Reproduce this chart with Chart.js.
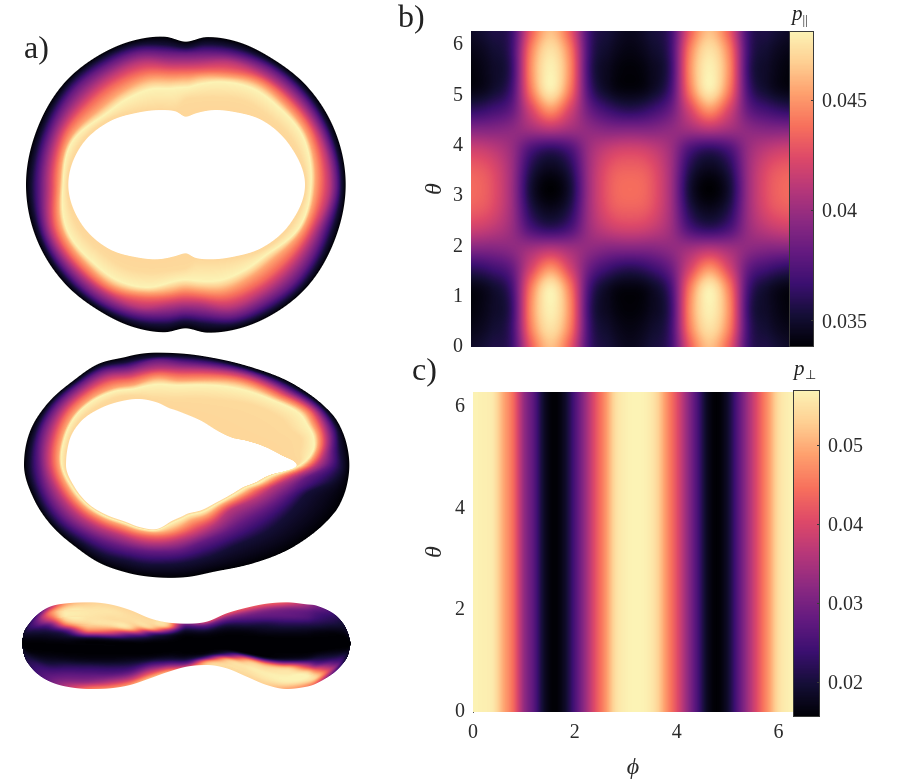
<!DOCTYPE html>
<html>
<head>
<meta charset="utf-8">
<script src="https://cdn.jsdelivr.net/npm/chart.js@4"></script>
<style>
  html, body { margin: 0; padding: 0; background: #fff; }
  body { position: relative; width: 900px; height: 784px; overflow: hidden; font-family: "Liberation Serif", serif; color: #222; }
  .box { position: absolute; }
  .lab { position: absolute; white-space: nowrap; line-height: 1; }
  .lab sub { font-size: 62%; vertical-align: -0.3em; line-height: 0; }
</style>
</head>
<body>
<div class="box" style="left:0;top:20px;width:360px;height:330px"><canvas id="topView"></canvas></div>
<div class="box" style="left:0;top:340px;width:360px;height:250px"><canvas id="midView"></canvas></div>
<div class="box" style="left:0;top:585px;width:360px;height:120px"><canvas id="lowView"></canvas></div>
<div class="box" style="left:420px;top:25px;width:369px;height:330px"><canvas id="parMap"></canvas></div>
<div class="box" style="left:789px;top:25px;width:111px;height:330px"><canvas id="parBar"></canvas></div>
<div class="box" style="left:420px;top:385px;width:373px;height:399px"><canvas id="perpMap"></canvas></div>
<div class="box" style="left:793px;top:385px;width:107px;height:337px"><canvas id="perpBar"></canvas></div>
<div class="lab" style="left:24px;top:31px;font-size:32px">a)</div>
<div class="lab" style="left:398px;top:0;font-size:32px">b)</div>
<div class="lab" style="left:412px;top:353px;font-size:32px">c)</div>
<div class="lab" style="left:792px;top:3px;font-size:21px"><i>p</i><sub>||</sub></div>
<div class="lab" style="left:794px;top:358px;font-size:21px"><i>p</i><sub>⊥</sub></div>
<script>
const magma = ['#000004','#140e36','#3b0f70','#641a80','#8c2981','#b73779','#de4968','#f7705c','#fe9f6d','#fecf92','#fcf3b5'];

// phi / theta sample positions of the two maps
const phiPar = [0,0.39,0.79,1.18,1.57,1.96,2.36,2.75,3.14,3.53,3.93,4.32,4.71,5.11,5.5,5.89,6.283];
const thetaPar = [0,0.39,0.79,1.18,1.57,1.96,2.36,2.75,3.14,3.53,3.93,4.32,4.71,5.11,5.5,5.89,6.283];
const pPar = [
  [.0348,.0355,.0365,.0430,.0462,.0430,.0366,.0352,.0345,.0352,.0366,.0430,.0462,.0430,.0365,.0355,.0348],
  [.0343,.0350,.0365,.0442,.0474,.0442,.0365,.0348,.0342,.0348,.0365,.0442,.0474,.0442,.0365,.0350,.0343],
  [.0340,.0347,.0363,.0446,.0480,.0446,.0363,.0344,.0339,.0344,.0363,.0446,.0480,.0446,.0363,.0347,.0340],
  [.0342,.0349,.0368,.0440,.0478,.0440,.0368,.0346,.0341,.0346,.0368,.0440,.0478,.0440,.0368,.0349,.0342],
  [.0362,.0368,.0380,.0420,.0448,.0420,.0382,.0366,.0360,.0366,.0382,.0420,.0448,.0420,.0380,.0368,.0362],
  [.0392,.0392,.0395,.0402,.0408,.0402,.0396,.0392,.0392,.0392,.0396,.0402,.0408,.0402,.0395,.0392,.0392],
  [.0418,.0413,.0400,.0372,.0362,.0372,.0402,.0416,.0420,.0416,.0402,.0372,.0362,.0372,.0400,.0413,.0418],
  [.0432,.0425,.0402,.0358,.0345,.0358,.0404,.0428,.0433,.0428,.0404,.0358,.0345,.0358,.0402,.0425,.0432],
  [.0436,.0428,.0402,.0352,.0338,.0352,.0404,.0431,.0437,.0431,.0404,.0352,.0338,.0352,.0402,.0428,.0436],
  [.0432,.0425,.0402,.0358,.0345,.0358,.0404,.0428,.0433,.0428,.0404,.0358,.0345,.0358,.0402,.0425,.0432],
  [.0418,.0413,.0400,.0372,.0362,.0372,.0402,.0416,.0420,.0416,.0402,.0372,.0362,.0372,.0400,.0413,.0418],
  [.0392,.0392,.0395,.0402,.0408,.0402,.0396,.0392,.0392,.0392,.0396,.0402,.0408,.0402,.0395,.0392,.0392],
  [.0362,.0368,.0380,.0420,.0448,.0420,.0382,.0366,.0360,.0366,.0382,.0420,.0448,.0420,.0380,.0368,.0362],
  [.0342,.0349,.0368,.0440,.0478,.0440,.0368,.0346,.0341,.0346,.0368,.0440,.0478,.0440,.0368,.0349,.0342],
  [.0340,.0347,.0363,.0446,.0480,.0446,.0363,.0344,.0339,.0344,.0363,.0446,.0480,.0446,.0363,.0347,.0340],
  [.0343,.0350,.0365,.0442,.0474,.0442,.0365,.0348,.0342,.0348,.0365,.0442,.0474,.0442,.0365,.0350,.0343],
  [.0348,.0355,.0365,.0430,.0462,.0430,.0366,.0352,.0345,.0352,.0366,.0430,.0462,.0430,.0365,.0355,.0348]
];
const parRange = [0.0338, 0.0481];
const parTicks = [0.035, 0.04, 0.045];

const phiPerp = [0,.2,.4,.6,.8,1,1.2,1.4,1.6,1.8,2,2.2,2.4,2.6,2.8,3,3.2,3.4,3.6,3.8,4,4.2,4.4,4.6,4.8,5,5.2,5.4,5.6,5.8,6,6.2,6.283];
const pPerp = [.0568,.0565,.0555,.0495,.0435,.033,.0265,.0185,.0157,.0185,.0255,.033,.041,.0475,.0545,.0565,.0569,.0565,.054,.0475,.041,.033,.0255,.018,.0157,.019,.0265,.034,.0415,.048,.0545,.0565,.0568];
const perpRange = [0.0156, 0.05696];
const perpTicks = [0.02, 0.03, 0.04, 0.05];

const thetaTicksPar = [0,1,2,3,4,5,6];
const thetaTicksPerp = [0,2,4,6];
const phiTicksPerp = [0,2,4,6];

// torus views: outline radii, outer rim to hole
const ringLevels = [0,.1,.3,.5,.68,.82,1,.93,.92];
const topCentre = [557, 494];
const topAngles = [0,20,40,55,70,82,90,98,110,125,140,160,180,200,220,235,250,262,270,278,290,305,320,340];
const topRadii = [
  [480,468,453,433,408,388,376,362,358],
  [477,460,437,412,392,375,365,342,335],
  [476,462,438,403,375,345,322,304,296],
  [469,455,430,398,368,338,312,270,262],
  [460,445,422,392,360,335,305,245,238],
  [448,422,395,362,338,318,292,232,222],
  [431,411,386,356,331,311,285,250,206],
  [447,424,397,365,340,322,295,258,216],
  [455,438,415,392,362,345,328,278,238],
  [459,448,430,405,388,372,352,306,265],
  [468,456,438,415,398,380,363,322,300],
  [476,463,447,428,410,393,381,350,335],
  [479,462,437,412,392,377,368,356,352],
  [476,460,437,412,392,375,365,342,335],
  [475,462,438,403,375,345,322,304,296],
  [468,455,430,398,368,338,312,270,262],
  [460,445,422,392,360,335,305,245,238],
  [448,424,400,368,342,320,292,232,222],
  [429,412,394,364,339,319,292,255,204],
  [447,426,400,370,344,328,305,262,216],
  [456,438,415,392,362,345,328,278,238],
  [459,448,430,405,388,372,352,306,265],
  [468,456,438,415,398,380,363,322,300],
  [476,463,447,428,410,393,381,350,335]
];
const midCentre = [470, 375];
const midAngles = [0,5,10,15,30,45,60,75,90,105,120,135,150,165,180,195,210,225,240,255,270,285,300,315,330,340,345,350,355];
const midRadii = [
  [578,555,515,480,460,445,430,422,420],
  [575,530,450,412,386,368,350,342,340],
  [567,465,415,362,340,325,310,302,300],
  [552,440,385,333,305,288,272,266,264],
  [482,390,320,263,245,232,222,218,216],
  [415,340,288,250,228,212,198,193,191],
  [367,318,268,240,215,195,178,174,172],
  [348,305,265,235,215,200,180,176,174],
  [337,300,260,235,215,203,195,193,192],
  [335,300,262,235,216,204,197,195,193],
  [340,312,272,240,222,208,200,197,195],
  [346,325,292,260,240,226,218,214,212],
  [364,350,320,285,264,250,240,237,235],
  [383,368,340,308,288,272,262,257,255],
  [398,380,352,328,308,292,285,275,272],
  [393,378,358,332,312,295,288,275,272],
  [375,367,350,328,310,292,285,268,262],
  [356,348,335,315,298,280,272,250,240],
  [350,340,325,305,285,265,255,235,220],
  [337,322,305,285,268,250,238,215,205],
  [337,325,315,290,275,260,242,200,188],
  [345,335,318,298,280,262,248,205,174],
  [368,360,345,329,312,294,278,230,176],
  [412,403,393,380,365,350,328,275,188],
  [480,470,455,440,425,410,395,350,208],
  [530,522,510,497,484,470,455,400,240],
  [553,542,528,512,497,482,468,415,280],
  [567,553,535,517,503,490,478,440,325],
  [575,552,528,508,493,480,470,430,370]
];
// low view: top and bottom edge per column, then value down each column
const lowX = [65,70,80,110,150,200,270,330,390,450,500,560,620,680,740,800,860,920,950,1000,1030,1045,1053];
const lowTop = [175,145,125,90,65,55,52,58,75,100,112,116,110,85,68,56,52,58,62,85,115,145,175];
const lowBot = [175,205,230,265,290,305,312,310,300,280,262,245,240,250,275,300,312,305,295,265,235,210,175];
const lowVals = [
  [.03,.03,.02,.01,0,0,0,0,0,.01,.02,.03,.03],
  [.06,.06,.05,.03,.01,0,0,0,.01,.03,.05,.06,.06],
  [.12,.13,.1,.06,.03,.01,0,0,.01,.05,.09,.12,.12],
  [.25,.32,.27,.15,.07,.02,0,0,.02,.08,.16,.2,.22],
  [.5,.72,.6,.3,.12,.04,0,0,.03,.1,.2,.28,.32],
  [.8,.96,.96,.75,.25,.06,0,0,.04,.15,.26,.36,.5],
  [.9,.96,.96,.92,.7,.08,0,0,.04,.17,.28,.42,.72],
  [.92,.96,.94,.93,.6,.07,0,0,.04,.16,.28,.48,.75],
  [.92,.94,.93,.87,.3,.03,0,0,.05,.16,.3,.52,.78],
  [.92,.93,.85,.3,.08,0,0,0,.05,.2,.4,.62,.85],
  [.92,.85,.45,.12,.03,0,0,0,.03,.12,.3,.55,.8],
  [.35,.2,.08,.02,0,0,0,0,0,.03,.12,.3,.55],
  [.55,.3,.15,.05,.01,0,0,0,0,.05,.3,.75,.9],
  [.62,.38,.2,.08,.02,0,0,0,.02,.25,.8,.93,.93],
  [.64,.4,.25,.12,.03,0,0,0,.05,.75,.95,.95,.92],
  [.65,.38,.27,.13,.05,0,0,0,.06,.8,.97,.97,.9],
  [.62,.35,.28,.15,.05,0,0,0,.12,.85,.98,.98,.82],
  [.45,.3,.25,.13,.04,0,0,0,.1,.55,.95,.97,.75],
  [.35,.25,.2,.12,.03,0,0,0,.09,.3,.7,.9,.65],
  [.2,.16,.12,.06,.01,0,0,0,.05,.15,.3,.45,.3],
  [.1,.08,.05,.02,0,0,0,0,.02,.08,.14,.16,.14],
  [.06,.05,.03,.01,0,0,0,0,.01,.03,.05,.06,.06],
  [.03,.03,.02,.01,0,0,0,0,0,.01,.02,.03,.03]
];

// magma lookup table
const lut = (function () {
  const rgb = magma.map(h => [1,3,5].map(i => parseInt(h.slice(i, i + 2), 16)));
  const out = [];
  for (let i = 0; i <= 255; i++) {
    const p = i / 255 * (rgb.length - 1), k = Math.min(Math.floor(p), rgb.length - 2), t = p - k;
    out.push(rgb[k].map((c, n) => c + (rgb[k + 1][n] - c) * t));
  }
  return out;
})();

const clamp = (v, a, b) => Math.max(a, Math.min(b, v));
const cubic = (p0, p1, p2, p3, t) => p1 + 0.5 * t * (p2 - p0 + t * (2 * p0 - 5 * p1 + 4 * p2 - p3 + t * (3 * (p1 - p2) + p3 - p0)));

function findCell(list, v) {
  let k = 0;
  while (k < list.length - 2 && list[k + 1] <= v) k++;
  return [k, clamp((v - list[k]) / (list[k + 1] - list[k]), 0, 1)];
}

function hermite(xs, ys, x) {
  const [k, t] = findCell(xs, x), last = xs.length - 1, h = xs[k + 1] - xs[k];
  const slope = i => {
    if (i <= 0) return (ys[1] - ys[0]) / (xs[1] - xs[0]);
    if (i >= last) return (ys[last] - ys[last - 1]) / (xs[last] - xs[last - 1]);
    if ((ys[i] - ys[i - 1]) * (ys[i + 1] - ys[i]) <= 0) return 0;
    return (ys[i + 1] - ys[i - 1]) / (xs[i + 1] - xs[i - 1]);
  };
  const m0 = slope(k) * h, m1 = slope(k + 1) * h;
  return (2*t*t*t - 3*t*t + 1) * ys[k] + (t*t*t - 2*t*t + t) * m0 + (-2*t*t*t + 3*t*t) * ys[k + 1] + (t*t*t - t*t) * m1;
}

// paints every pixel of the chart area, going back to data values through the scales
const fieldPlugin = {
  id: 'field',
  beforeDatasetsDraw(chart, args, opts) {
    const { left, top, right, bottom } = chart.chartArea;
    const w = Math.round(right - left), h = Math.round(bottom - top);
    const off = document.createElement('canvas');
    off.width = w; off.height = h;
    const c = off.getContext('2d');
    const img = c.createImageData(w, h);
    const xs = chart.scales.x, ys = chart.scales.y;
    for (let py = 0; py < h; py++) {
      const dy = ys.getValueForPixel(top + py + 0.5);
      for (let px = 0; px < w; px++) {
        const res = opts.at(xs.getValueForPixel(left + px + 0.5), dy);
        if (!res) continue;
        const col = lut[Math.round(clamp(res[0], 0, 1) * 255)], n = (py * w + px) * 4;
        img.data[n] = col[0]; img.data[n + 1] = col[1]; img.data[n + 2] = col[2];
        img.data[n + 3] = res[1] * 255;
      }
    }
    c.putImageData(img, 0, 0);
    chart.ctx.drawImage(off, left, top);
  }
};
Chart.register(fieldPlugin);

function ringField(centre, angles, radii) {
  // close the angle list so the outline wraps round, tenth of a degree lookup
  const wrapA = [angles[angles.length - 1] - 360, ...angles, 360, angles[1] + 360];
  const wrapR = [radii[radii.length - 1], ...radii, radii[0], radii[1]];
  const rows = [];
  for (let s = 0; s < 3600; s++) {
    rows.push(radii[0].map((_, c) => hermite(wrapA, wrapR.map(r => r[c]), s / 10)));
  }
  return function (x, y) {
    const dx = x - centre[0], dy = y - centre[1], r = Math.hypot(dx, dy);
    const deg = (Math.atan2(dy, dx) * 180 / Math.PI + 360) % 360;
    const R = rows[Math.floor(deg * 10) % 3600], last = R.length - 1;
    if (r > R[0] + 2 || r < R[last] - 2) return null;
    const alpha = clamp((R[0] - r) / 3 + 0.5, 0, 1) * clamp((r - R[last]) / 3 + 0.5, 0, 1);
    let k = 0;
    while (k < last - 1 && r < R[k + 1]) k++;
    const t = clamp((R[k] - r) / Math.max(R[k] - R[k + 1], 0.01), 0, 1);
    return [ringLevels[k] + (ringLevels[k + 1] - ringLevels[k]) * t, alpha];
  };
}

function lowField(x, y) {
  if (x < lowX[0] || x > lowX[lowX.length - 1]) return null;
  const up = hermite(lowX, lowTop, x), down = hermite(lowX, lowBot, x);
  if (y < up - 2 || y > down + 2) return null;
  const alpha = clamp((y - up) / 3 + 0.5, 0, 1) * clamp((down - y) / 3 + 0.5, 0, 1);
  const s = clamp((y - up) / Math.max(down - up, 1), 0, 1) * 12, m = Math.min(Math.floor(s), 11), f = s - m;
  const across = lowVals.map(col => {
    const g = c => col[clamp(c, 0, 12)];
    return clamp(cubic(g(m - 1), g(m), g(m + 1), g(m + 2), f), 0, 1);
  });
  return [hermite(lowX, across, x), alpha];
}

function parField(x, y) {
  const [j, u] = findCell(phiPar, x), [i, v] = findCell(thetaPar, y);
  const rows = [i - 1, i, i + 1, i + 2].map(r => {
    const row = pPar[clamp(r, 0, pPar.length - 1)], g = c => row[clamp(c, 0, row.length - 1)];
    return cubic(g(j - 1), g(j), g(j + 1), g(j + 2), u);
  });
  const val = cubic(rows[0], rows[1], rows[2], rows[3], v);
  return [(val - parRange[0]) / (parRange[1] - parRange[0]), 1];
}

function perpField(x) {
  const [j, u] = findCell(phiPerp, x), g = c => pPerp[clamp(c, 0, pPerp.length - 1)];
  const val = cubic(g(j - 1), g(j), g(j + 1), g(j + 2), u);
  return [(val - perpRange[0]) / (perpRange[1] - perpRange[0]), 1];
}

function ringData(centre, angles, radii, c) {
  return angles.map((a, i) => ({
    x: centre[0] + radii[i][c] * Math.cos(a * Math.PI / 180),
    y: centre[1] + radii[i][c] * Math.sin(a * Math.PI / 180)
  }));
}

// hidden axes, one unit is one third of a pixel
function surfaceChart(id, w, h, datasets, at) {
  return new Chart(document.getElementById(id), {
    type: 'scatter',
    data: { datasets },
    options: {
      responsive: true, maintainAspectRatio: false, animation: false,
      layout: { padding: 0 },
      scales: {
        x: { display: false, min: 0, max: w * 3 },
        y: { display: false, min: 0, max: h * 3, reverse: true }
      },
      plugins: { legend: { display: false }, tooltip: { enabled: false }, field: { at } }
    }
  });
}

function ringSets(centre, angles, radii) {
  return ringLevels.map((lv, c) => ({ label: 'level ' + lv, data: ringData(centre, angles, radii, c), pointRadius: 0, showLine: false }));
}

surfaceChart('topView', 360, 330, ringSets(topCentre, topAngles, topRadii), ringField(topCentre, topAngles, topRadii));
surfaceChart('midView', 360, 250, ringSets(midCentre, midAngles, midRadii), ringField(midCentre, midAngles, midRadii));
surfaceChart('lowView', 360, 120, [
  { label: 'top', data: lowX.map((x, i) => ({ x, y: lowTop[i] })), pointRadius: 0, showLine: false },
  { label: 'bottom', data: lowX.map((x, i) => ({ x, y: lowBot[i] })), pointRadius: 0, showLine: false }
], lowField);

const tickFont = { family: '"Liberation Serif", serif', size: 20 };
const titleFont = { family: '"Liberation Serif", serif', size: 24, style: 'italic' };
const inkColor = '#2b2b2b';

function mapChart(id, opts) {
  return new Chart(document.getElementById(id), {
    type: 'scatter',
    data: { datasets: [{ data: opts.data, pointRadius: 0, showLine: false }] },
    options: {
      responsive: true, maintainAspectRatio: false, animation: false,
      layout: { padding: { top: opts.padTop, bottom: opts.padBottom } },
      scales: {
        x: {
          min: 0, max: 6.283, display: opts.showPhi,
          grid: { display: false, drawTicks: false }, border: { display: false },
          title: { display: true, text: 'ϕ', font: titleFont, color: inkColor, padding: { top: 0, bottom: 2 } },
          ticks: { font: tickFont, color: inkColor, padding: 9, maxRotation: 0 },
          afterBuildTicks: s => { s.ticks = phiTicksPerp.map(value => ({ value })); },
          afterFit: s => { if (opts.showPhi) s.height = opts.axisHeight; s.paddingLeft = 0; s.paddingRight = 0; }
        },
        y: {
          min: 0, max: 6.283,
          grid: { display: false, drawTicks: false },
          border: opts.leftLine ? { display: true, color: '#555', width: 1 } : { display: false },
          title: { display: true, text: 'θ', font: titleFont, color: inkColor, padding: { top: 0, bottom: 0 } },
          ticks: { font: tickFont, color: inkColor, padding: 8 },
          afterBuildTicks: s => { s.ticks = opts.thetaTicks.map(value => ({ value })); },
          afterFit: s => { s.width = opts.axisWidth; s.paddingTop = 0; s.paddingBottom = 0; }
        }
      },
      plugins: { legend: { display: false }, tooltip: { enabled: false }, field: { at: opts.at } }
    }
  });
}

mapChart('parMap', {
  data: pPar.flatMap((row, i) => row.map((v, j) => ({ x: phiPar[j], y: thetaPar[i], v }))),
  at: parField, thetaTicks: thetaTicksPar, showPhi: false, padTop: 6, padBottom: 8, axisWidth: 51, leftLine: false
});
mapChart('perpMap', {
  data: pPerp.map((v, j) => ({ x: phiPerp[j], y: 0, v })),
  at: perpField, thetaTicks: thetaTicksPerp, showPhi: true, axisHeight: 72, padTop: 7, padBottom: 0, axisWidth: 53, leftLine: true
});

function barChart(id, range, ticks, opts) {
  return new Chart(document.getElementById(id), {
    type: 'scatter',
    data: { datasets: [{ data: ticks.map(y => ({ x: 0.5, y })), pointRadius: 0, showLine: false }] },
    plugins: [{
      id: 'barFrame',
      afterDatasetsDraw(chart) {
        const { left, top, right, bottom } = chart.chartArea, c = chart.ctx;
        c.save();
        c.strokeStyle = '#3a3a3a';
        c.lineWidth = 1;
        c.strokeRect(left + 0.5, top + 0.5, right - left - 1, bottom - top - 1);
        ticks.forEach(t => {
          const y = Math.round(chart.scales.y.getPixelForValue(t)) + 0.5;
          c.beginPath(); c.moveTo(right - 3, y); c.lineTo(right, y); c.stroke();
        });
        c.restore();
      }
    }],
    options: {
      responsive: true, maintainAspectRatio: false, animation: false,
      layout: { padding: { top: opts.padTop, bottom: opts.padBottom } },
      scales: {
        x: { display: false, min: 0, max: 1 },
        y: {
          position: 'right', min: range[0], max: range[1],
          grid: { display: false, drawTicks: false }, border: { display: false },
          ticks: { font: tickFont, color: inkColor, padding: opts.pad, labelOffset: 2, callback: v => String(v) },
          afterBuildTicks: s => { s.ticks = ticks.map(value => ({ value })); },
          afterFit: s => { s.width = opts.axisWidth; s.paddingTop = 0; s.paddingBottom = 0; }
        }
      },
      plugins: {
        legend: { display: false }, tooltip: { enabled: false },
        field: { at: (x, y) => [(y - range[0]) / (range[1] - range[0]), 1] }
      }
    }
  });
}

barChart('parBar', parRange, parTicks, { padTop: 6, padBottom: 8, pad: 8, axisWidth: 86 });
barChart('perpBar', perpRange, perpTicks, { padTop: 5, padBottom: 5, pad: 8, axisWidth: 80 });
</script>
</body>
</html>
